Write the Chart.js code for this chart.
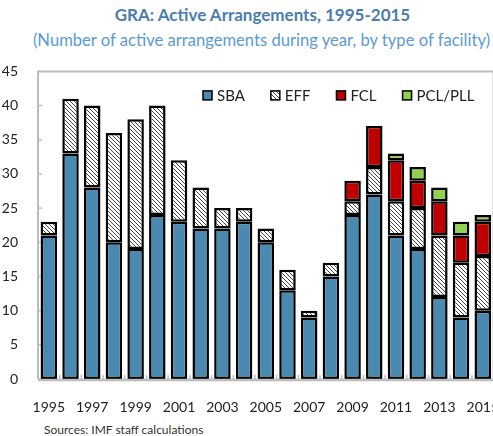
<!DOCTYPE html>
<html><head><meta charset="utf-8">
<script src="https://cdn.jsdelivr.net/npm/chart.js@4/dist/chart.umd.min.js"></script>
<style>
html,body{margin:0;padding:0;overflow:hidden;width:493px;height:436px;background:#fff;font-family:Lato,"Open Sans",sans-serif;}
#t{position:absolute;left:0;width:493px;top:4px;text-align:center;font-weight:bold;font-size:17px;color:#4a7db0;padding-left:32px;box-sizing:border-box;white-space:nowrap;}
#s{position:absolute;left:0;width:493px;top:30px;text-align:center;font-size:16.6px;color:#5b9bd5;padding-left:30px;box-sizing:border-box;white-space:nowrap;}
#f{position:absolute;left:44px;top:422px;font-size:12px;color:#333;}
#wrap{position:absolute;left:0;top:51px;width:511px;height:369px;}
</style></head><body>
<div id="t">GRA: Active Arrangements, 1995-2015</div>
<div id="s">(Number of active arrangements during year, by type of facility)</div>
<div id="wrap"><canvas id="c" width="511" height="369"></canvas></div>
<div id="f">Sources: IMF staff calculations</div>
<script>
const years = ["1995","1996","1997","1998","1999","2000","2001","2002","2003","2004","2005","2006","2007","2008","2009","2010","2011","2012","2013","2014","2015"];
const sba = [21,33,28,20,19,24,23,22,22,23,20,13,9,15,24,27,21,19,12,9,10];
const eff = [2,8,12,16,19,16,9,6,3,2,2,3,1,2,2,4,5,6,9,8,8];
const fcl = [null,null,null,null,null,null,null,null,null,null,null,null,null,null,3,6,6,4,5,4,5];
const pcl = [null,null,null,null,null,null,null,null,null,null,null,null,null,null,null,null,1,2,2,2,1];
const yTicks = [0,5,10,15,20,25,30,35,40,45];

function hatch(){
  const p=document.createElement('canvas');p.width=4;p.height=4;
  const g=p.getContext('2d');
  g.fillStyle='#ffffff';g.fillRect(0,0,4,4);
  g.strokeStyle='#444';g.lineWidth=1;
  g.beginPath();
  g.moveTo(-1,-1);g.lineTo(5,5);
  g.moveTo(-1,3);g.lineTo(1,5);
  g.moveTo(3,-1);g.lineTo(5,1);
  g.stroke();
  return g.createPattern(p,'repeat');
}
const ctx=document.getElementById('c').getContext('2d');
const hp=hatch();
const common={borderColor:'#000',borderWidth:2.5,borderSkipped:false,barPercentage:0.76,categoryPercentage:1};
const legendPlugin={id:'lg',afterDraw(ch){
  const c=ch.ctx;const a=ch.chartArea;
  c.save();c.font='15px Lato';c.textBaseline='middle';
  let x=a.left+165;const y=a.top+24;
  ch.data.datasets.forEach(ds=>{
    c.fillStyle=ds.backgroundColor;c.fillRect(x,y-4.5,9,9);
    c.strokeStyle='#000';c.lineWidth=1.5;c.strokeRect(x,y-4.5,9,9);
    c.fillStyle='#222';c.fillText(ds.label,x+14,y+1);
    x+=14+c.measureText(ds.label).width+26;
  });
  c.restore();
}};
const framePlugin={id:'fr',beforeDatasetsDraw(ch){
  const c=ch.ctx,a=ch.chartArea;
  c.save();c.strokeStyle='#bdbdbd';c.lineWidth=2;
  c.beginPath();c.moveTo(a.left,a.bottom);c.lineTo(a.left,a.top);c.lineTo(a.right,a.top);c.lineTo(a.right,a.bottom);c.stroke();
  const ys=ch.scales.y;
  c.lineWidth=1.5;
  yTicks.forEach(v=>{const py=ys.getPixelForValue(v);c.beginPath();c.moveTo(a.left,py);c.lineTo(a.left+4,py);c.stroke();});
  for(let i=0;i<=years.length;i++){const px=a.left+i*(a.right-a.left)/years.length;c.beginPath();c.moveTo(px,a.bottom);c.lineTo(px,a.bottom-4);c.stroke();}
  c.restore();
},afterDraw(ch){
  const c=ch.ctx,a=ch.chartArea;
  c.save();c.strokeStyle='#bdbdbd';c.lineWidth=2.5;
  c.beginPath();c.moveTo(a.left,a.bottom+1);c.lineTo(a.right,a.bottom+1);c.stroke();c.restore();
}};
new Chart(ctx,{type:'bar',
 data:{labels:years,datasets:[
  Object.assign({label:'SBA',data:sba,backgroundColor:'#4a8ab0'},common),
  Object.assign({label:'EFF',data:eff,backgroundColor:hp},common),
  Object.assign({label:'FCL',data:fcl,backgroundColor:'#c00000'},common),
  Object.assign({label:'PCL/PLL',data:pcl,backgroundColor:'#92d050'},common)
 ]},
 options:{responsive:false,animation:false,
  layout:{padding:{top:0,right:0,left:0,bottom:0}},
  plugins:{legend:{display:false},title:{display:false},tooltip:{enabled:false}},
  scales:{
   x:{stacked:true,grid:{display:false},border:{display:false},
      ticks:{autoSkip:false,maxRotation:0,padding:12,color:'#222',font:{family:'Lato',size:14},
        callback:(v,i)=>i%2===0?years[i]:''},
      afterFit(s){s.height=41;}},
   y:{stacked:true,min:0,max:45,grid:{display:false},border:{display:false},
      afterBuildTicks(s){s.ticks=yTicks.map(v=>({value:v}));},
      ticks:{padding:12,color:'#222',font:{family:'Lato',size:14}},
      afterFit(s){s.width=38;}}
  }},
 plugins:[framePlugin,legendPlugin]
});
</script>
</body></html>
